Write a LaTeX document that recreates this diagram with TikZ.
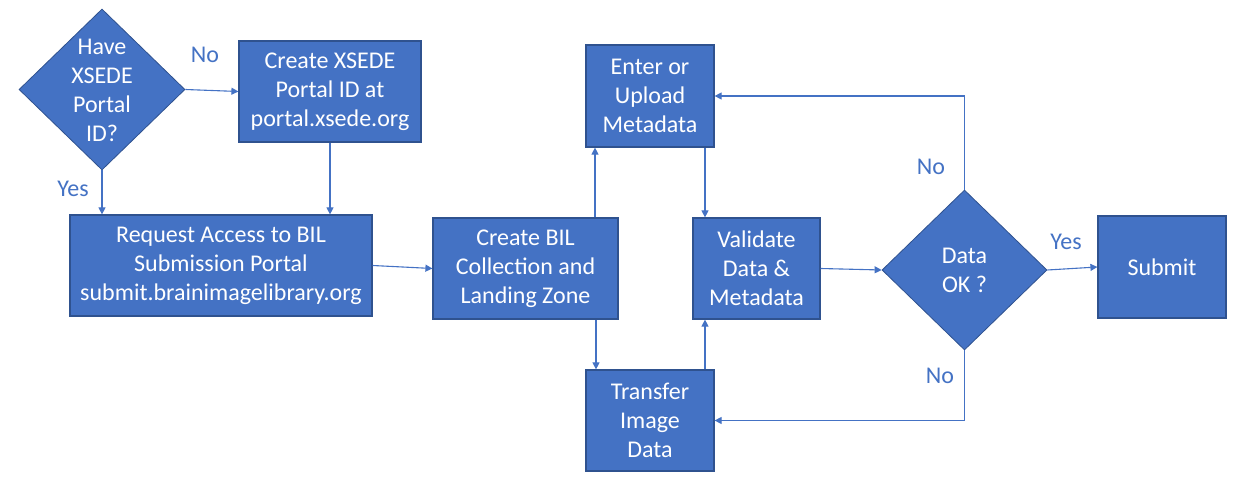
\documentclass[tikz,border=0pt]{standalone}
\usepackage{fontspec}
\setmainfont{Carlito}
\usetikzlibrary{shapes.geometric,arrows.meta}
\definecolor{bfill}{HTML}{4472C4}
\definecolor{bdraw}{HTML}{2F528F}
\begin{document}
\begin{tikzpicture}[x=1pt,y=-1pt,
 box/.style={draw=bdraw, fill=bfill, line width=1.2pt, text=white, align=center, inner sep=0pt, font=\fontsize{24}{29}\selectfont},
 dia/.style={diamond, draw=bdraw, fill=bfill, line width=0.8pt, inner sep=0pt},
 txt/.style={text=white, align=center, font=\fontsize{24}{29}\selectfont},
 lbl/.style={text=bfill, font=\fontsize{24}{29}\selectfont},
 conn/.style={draw=bfill, line width=1.1pt, -{Triangle[width=7pt,length=7pt]}}
]
\useasboundingbox (0,0) rectangle (1235,486);
% nodes
\node[dia, minimum width=166pt, minimum height=161pt] (d1) at (102,89.5) {};
\node[txt] (d1t) at (102,90) {Have\\XSEDE\\Portal\\ID?};
\node[box, minimum width=182pt, minimum height=101pt] (xs) at (330,91.5) {Create XSEDE\\Portal ID at\\portal.xsede.org};
\node[box, minimum width=302pt, minimum height=101pt] (rq) at (221,265.5) {Request Access to BIL\\Submission Portal\\submit.brainimagelibrary.org};
\node[box, minimum width=185pt, minimum height=101pt] (cb) at (525.5,268.5) {Create BIL\\Collection and\\Landing Zone};
\node[box, minimum width=128pt, minimum height=102pt] (en) at (650,96) {Enter or\\Upload\\Metadata};
\node[box, minimum width=127pt, minimum height=101pt] (va) at (756.5,268.5) {Validate\\Data \&\\Metadata};
\node[box, minimum width=128pt, minimum height=101pt] (tr) at (650,420.5) {Transfer\\Image\\Data};
\node[dia, minimum width=165pt, minimum height=160pt] (d2) at (964.5,270) {};
\node[txt] (d2t) at (964.5,270) {Data\\OK ?};
\node[box, minimum width=128pt, minimum height=102pt] (sb) at (1162,267) {Submit};
% connectors
\draw[conn] (d1.east) -- (xs.west);
\draw[conn] (d1.south) -- (d1.south |- rq.north);
\draw[conn] (xs.south) -- (xs.south |- rq.north);
\draw[conn] (rq.east) -- (cb.west);
\draw[conn] ([xshift=-55pt]en.south |- cb.north) -- ([xshift=-55pt]en.south);
\draw[conn] ([xshift=55pt]en.south) -- ([xshift=55pt]en.south |- va.north);
\draw[conn] ([xshift=-54pt]tr.north |- cb.south) -- ([xshift=-54pt]tr.north);
\draw[conn] ([xshift=55pt]tr.north) -- ([xshift=55pt]tr.north |- va.south);
\draw[conn] (va.east) -- (d2.west);
\draw[conn] (d2.north) |- (en.east);
\draw[conn] (d2.south) |- (tr.east);
\draw[conn] (d2.east) -- (sb.west);
% labels
\node[lbl] (l1) at (205,55) {No};
\node[lbl] (l2) at (73,189) {Yes};
\node[lbl] (l3) at (931,167) {No};
\node[lbl] (l4) at (940,376) {No};
\node[lbl] (l5) at (1066,242) {Yes};
\end{tikzpicture}
\end{document}
